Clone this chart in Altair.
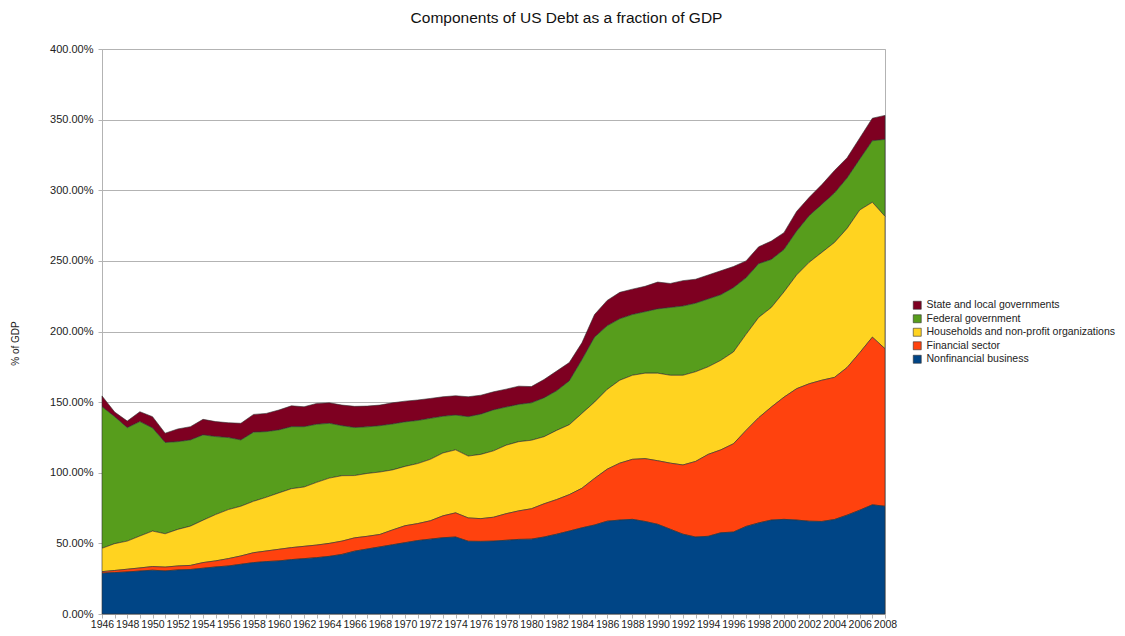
import altair as alt
import pandas as pd

years = list(range(1946, 2009))

nonfinancial = [28.9, 29.3, 29.8, 30.4, 31.0, 30.5, 31.2, 31.5, 32.4, 33.3,
                34.0, 35.2, 36.4, 37.1, 37.6, 38.5, 39.2, 39.9, 40.8, 42.2,
                44.5, 46.0, 47.5, 49.0, 50.5, 52.0, 53.0, 54.0, 54.5, 51.5,
                51.4, 51.6, 52.2, 52.8, 53.0, 54.5, 56.5, 58.7, 61.0, 63.0,
                65.7, 66.5, 67.0, 65.5, 63.5, 60.0, 56.5, 54.5, 55.0, 57.5,
                58.0, 62.0, 64.5, 66.5, 67.0, 66.5, 65.7, 65.5, 66.9, 70.0,
                73.5, 77.3, 76.3]

financial = [1.1, 1.5, 1.9, 2.2, 2.6, 2.7, 2.8, 2.9, 4.0, 4.3,
             5.2, 5.9, 7.0, 7.5, 8.2, 8.5, 8.7, 8.9, 9.2, 9.4,
             9.4, 9.0, 8.8, 10.5, 12.0, 12.0, 13.0, 15.5, 17.1, 16.5,
             16.1, 16.9, 18.8, 20.2, 21.5, 23.5, 24.5, 25.8, 28.0, 33.0,
             36.8, 40.3, 42.5, 44.5, 45.0, 46.8, 49.0, 53.5, 58.0, 58.7,
             62.5, 68.0, 74.5, 80.0, 86.5, 93.0, 97.3, 100.0, 100.6, 104.5,
             111.5, 118.7, 111.5]

households = [16.5, 19.0, 19.9, 22.6, 25.1, 23.6, 25.9, 27.8, 30.0, 32.8,
              34.7, 35.2, 36.4, 38.0, 39.9, 41.7, 42.0, 44.4, 46.2, 46.3,
              44.1, 44.5, 44.2, 42.5, 42.0, 42.5, 43.5, 44.5, 44.6, 43.8,
              45.5, 47.0, 48.5, 49.0, 48.5, 47.5, 49.0, 49.5, 53.0, 54.0,
              56.5, 58.7, 59.5, 60.5, 62.0, 62.2, 63.5, 63.5, 62.0, 63.4,
              65.0, 68.0, 71.0, 70.5, 74.5, 80.5, 86.0, 90.5, 95.5, 98.5,
              101.0, 95.5, 93.7]

federal = [100.2, 89.9, 80.3, 81.0, 73.0, 64.6, 62.1, 61.0, 60.4, 55.2,
           51.0, 46.9, 48.9, 46.5, 44.6, 43.9, 42.7, 41.1, 38.8, 35.4,
           34.0, 33.0, 32.8, 32.5, 31.5, 30.5, 29.0, 26.0, 24.6, 27.9,
           28.5, 29.0, 27.0, 26.4, 26.5, 27.5, 28.0, 31.0, 38.0, 46.0,
           45.0, 43.5, 43.0, 43.5, 45.5, 48.0, 49.0, 48.5, 48.0, 46.4,
           45.5, 40.0, 38.0, 34.0, 30.0, 31.0, 33.0, 34.0, 35.0, 35.7,
           36.0, 43.5, 54.5]

state_local = [7.7, 3.3, 4.7, 7.0, 8.0, 6.6, 9.0, 9.4, 11.0, 10.6,
               10.5, 11.8, 12.6, 12.9, 14.1, 14.8, 14.1, 14.8, 14.5, 14.6,
               15.0, 14.7, 14.6, 15.0, 14.7, 14.5, 14.1, 13.8, 13.7, 14.1,
               13.4, 12.8, 12.7, 12.9, 11.5, 13.0, 14.0, 13.0, 12.0, 16.0,
               18.0, 18.7, 18.0, 18.0, 19.0, 17.0, 18.0, 17.0, 17.0, 17.0,
               15.0, 12.0, 12.0, 13.0, 12.0, 14.0, 13.0, 14.0, 16.0, 14.3,
               15.0, 16.0, 17.0]

series_names = ["State and local governments", "Federal government",
                "Households and non-profit organizations", "Financial sector",
                "Nonfinancial business"]
series_colors = ["#7e0021", "#579d1c", "#ffd320", "#ff420e", "#004586"]
series_values = [state_local, federal, households, financial, nonfinancial]

rows = []
for name, vals in zip(series_names, series_values):
    rank = 4 - series_names.index(name)
    for yr, v in zip(years, vals):
        rows.append({"year": yr, "series": name, "value": v, "rank": rank})
df = pd.DataFrame(rows)

FONT = "Liberation Sans"

chart = alt.Chart(df).mark_area(
    stroke="#303030", strokeWidth=0.6, interpolate="linear"
).encode(
    x=alt.X("year:Q",
            scale=alt.Scale(domain=[1946, 2008], nice=False, zero=False),
            axis=alt.Axis(values=years, labelExpr="datum.value % 2 == 0 ? datum.value : ''",
                          grid=False, title=None, tickSize=4, labelPadding=1,
                          labelOverlap=False, labelFlush=False, labelFontSize=10.5,
                          labelColor="#222222", tickColor="#b3b3b3", domainColor="#b3b3b3",
                          labelFont=FONT)),
    y=alt.Y("value:Q", stack="zero",
            scale=alt.Scale(domain=[0, 400], nice=False),
            axis=alt.Axis(values=[0, 50, 100, 150, 200, 250, 300, 350, 400],
                          labelExpr="format(datum.value, '.2f') + '%'",
                          title="% of GDP", titleFontSize=10, titleFontWeight="normal",
                          titleColor="#222222", titleFont=FONT, titleAngle=-90,
                          titleX=-87, titleY=294, titleAlign="center", titleBaseline="middle",
                          labelFontSize=11, labelColor="#222222", labelFont=FONT,
                          tickSize=4, labelPadding=5, tickColor="#b3b3b3",
                          domainColor="#b3b3b3", gridColor="#b3b3b3", gridWidth=1)),
    color=alt.Color("series:N",
                    scale=alt.Scale(domain=series_names, range=series_colors),
                    legend=alt.Legend(title=None, orient="none", legendX=810, legendY=251,
                                      symbolType="square", symbolSize=64,
                                      symbolStrokeColor="#333333", symbolStrokeWidth=0.6,
                                      symbolOpacity=1,
                                      labelFontSize=10.5, labelFont=FONT, labelColor="#222222",
                                      labelOffset=4, rowPadding=2.5, padding=0,
                                      labelLimit=300)),
    order=alt.Order("rank:Q", sort="ascending"),
).properties(
    width=783,
    height=565,
    title=alt.TitleParams("Components of US Debt as a fraction of GDP",
                          fontSize=15.5, font=FONT, fontWeight="normal",
                          color="#111111", anchor="middle", dx=73, offset=17),
    autosize=alt.AutoSizeParams(type="none"),
    padding={"left": 94, "top": 41, "right": 232, "bottom": 14},
).configure_view(
    stroke="#b3b3b3"
)

chart.save("out.html", embed_options={"renderer": "svg", "actions": False})
